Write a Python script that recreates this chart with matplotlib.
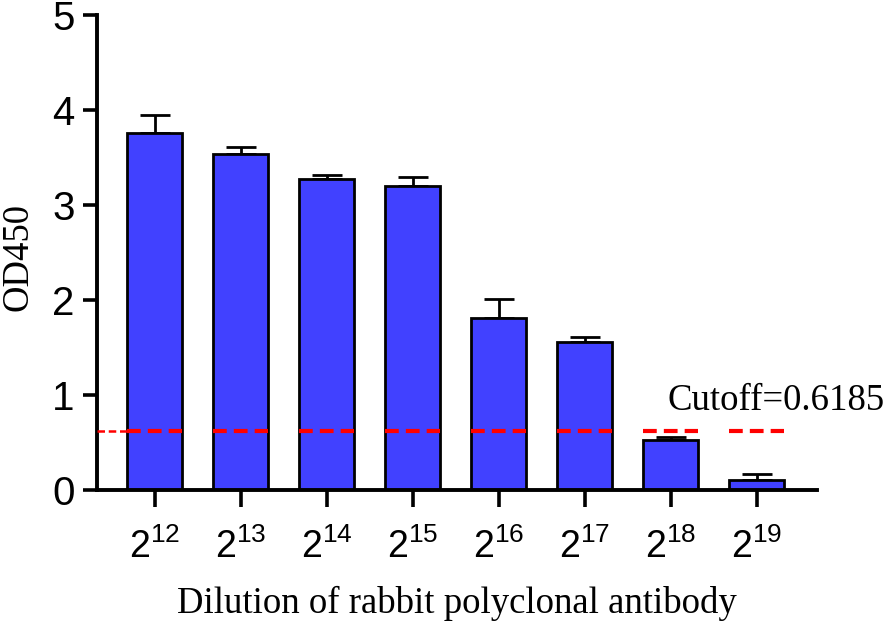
import matplotlib
matplotlib.use("Agg")
import matplotlib.pyplot as plt
import numpy as np

categories = ["12", "13", "14", "15", "16", "17", "18", "19"]
means = [3.76, 3.54, 3.27, 3.20, 1.81, 1.56, 0.53, 0.11]
errors = [0.19, 0.07, 0.05, 0.10, 0.20, 0.05, 0.025, 0.055]
cutoff = 0.6185
yticks = [0, 1, 2, 3, 4, 5]

plt.rcParams['mathtext.fontset'] = 'custom'
plt.rcParams['mathtext.rm'] = 'Liberation Sans'
plt.rcParams['mathtext.it'] = 'Liberation Sans'

fig = plt.figure(figsize=(8.86, 6.22), dpi=100)
ax = fig.add_axes([97/886, 1-490/622, (817-97)/886, (490-15)/622])

x = np.arange(len(categories))
bw = 0.64
ax.bar(x, means, width=bw, color='#4141FF', edgecolor='black', linewidth=2.0, zorder=2)
ax.errorbar(x, means, yerr=[np.zeros(len(means)), errors], fmt='none', ecolor='black',
            elinewidth=2.0, capsize=10.5, capthick=2.0, zorder=1)

# cutoff: thin segment from axis to first bar, thick dashes across each bar
ax.plot([-0.669, x[0]-bw/2], [cutoff, cutoff], color='red', lw=1.8, dashes=(3.0, 1.5), zorder=3)
for xi in x:
    ax.plot([xi-bw/2, xi+bw/2], [cutoff, cutoff], color='red', lw=3.0, dashes=(3.3, 1.7),
            zorder=3, solid_capstyle='butt', dash_capstyle='butt')

ax.text(8.49, 0.94, "Cutoff=0.6185", ha='right', va='center', fontsize=26.5,
        family='Liberation Serif', clip_on=False)

ax.set_xlim(-0.669, 7.70)
ax.set_ylim(0, 5)
ax.set_yticks(yticks)
ax.set_xticks(x)
ax.set_xticklabels([r'$2^{%s}$' % c for c in categories])
ax.tick_params(axis='y', labelsize=29, width=2.6, length=10, pad=6)
ax.tick_params(axis='x', labelsize=27, width=2.6, length=12, pad=16)
for lab in ax.get_yticklabels():
    lab.set_family('Liberation Sans')

for s in ['top', 'right']:
    ax.spines[s].set_visible(False)
for s in ['left', 'bottom']:
    ax.spines[s].set_linewidth(2.8)

ax.set_xlabel("Dilution of rabbit polyclonal antibody", fontsize=26.5, family='Liberation Serif',
              labelpad=14)
fig.text(1/886, 1-257/622, "OD450", rotation=90, ha='left', va='center', fontsize=26.5,
         family='Liberation Serif')

fig.savefig("out.png", dpi=100)
